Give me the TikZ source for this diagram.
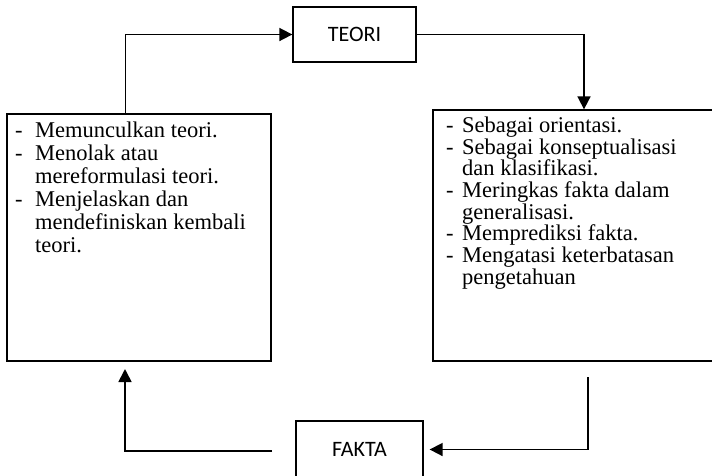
\documentclass[tikz,border=0pt]{standalone}
\usepackage{fontspec}
\setmainfont{Liberation Serif}
\newfontfamily\labelfont{Carlito}
\usetikzlibrary{arrows.meta}
\newcommand{\dashmark}[1]{\makebox[#1pt][l]{-}}
\newcommand{\hangmark}[1]{\makebox[#1pt][l]{}}
\begin{document}
\begin{tikzpicture}[x=1pt,y=-1pt,
  box/.style={draw, line width=1.3pt, inner sep=0},
  arr/.style={line width=1.7pt, -{Triangle[length=13pt,width=13pt]}},
  lbl/.style={font=\labelfont\fontsize{22}{26}\selectfont},
  body/.style={anchor=north west, inner sep=0, align=left}
]
\useasboundingbox (0,0) rectangle (712,475);

% boxes
\node[box, minimum width=123pt, minimum height=55pt, lbl] (teori) at (354.5,34.5) {TEORI};
\node[box, minimum width=127pt, minimum height=57pt] (fakta) at (359.5,449.5) {};
\node[lbl] (faktatext) at (359.5,449.5) {FAKTA};
\node[box, minimum width=264pt, minimum height=247pt] (lbox) at (139,237.5) {};
\node[box, minimum width=280pt, minimum height=251pt] (rbox) at (573,235.5) {};

% texts
\node[body, font=\fontsize{22.5}{23}\selectfont] (ltext) at (15,122)
  {\dashmark{20}Memunculkan teori.\\
   \dashmark{20}Menolak atau\\
   \hangmark{20}mereformulasi teori.\\
   \dashmark{20}Menjelaskan dan\\
   \hangmark{20}mendefiniskan kembali\\
   \hangmark{20}teori.};
\node[body, font=\fontsize{22.5}{21.7}\selectfont] (rtext) at (446,116.5)
  {\dashmark{16}Sebagai orientasi.\\
   \dashmark{16}Sebagai konseptualisasi\\
   \hangmark{16}dan klasifikasi.\\
   \dashmark{16}Meringkas fakta dalam\\
   \hangmark{16}generalisasi.\\
   \dashmark{16}Memprediksi fakta.\\
   \dashmark{16}Mengatasi keterbatasan\\
   \hangmark{16}pengetahuan};

% connectors
\draw[arr] ([xshift=119pt]lbox.north west) |- (teori.west);
\draw[arr] (teori.east) -| ([xshift=11pt]rbox.north);
\coordinate (c3) at (588,377);
\draw[arr, shorten >=6pt] (c3) |- (fakta.east);
\coordinate (c4) at (272,451);
\coordinate (a4) at (125,369);
\draw[arr] (c4) -| (a4);
\end{tikzpicture}
\end{document}
